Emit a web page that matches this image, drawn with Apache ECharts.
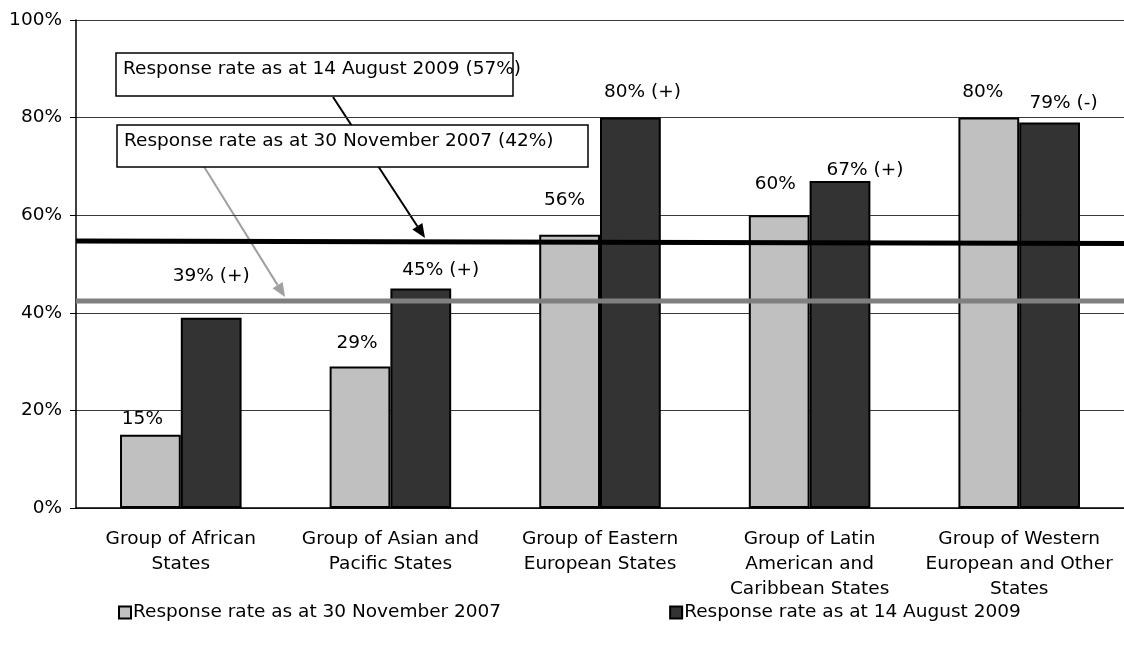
<!DOCTYPE html>
<html>
<head>
<meta charset="utf-8">
<script src="https://cdn.jsdelivr.net/npm/echarts@6/dist/echarts.min.js"></script>
<style>
  html, body { margin: 0; padding: 0; background: #fff; }
  #chart { width: 1124px; height: 648px; }
</style>
</head>
<body>
<div id="chart"></div>
<script>
// categories and values
const categories = [
  'Group of African\nStates',
  'Group of Asian and\nPacific States',
  'Group of Eastern\nEuropean States',
  'Group of Latin\nAmerican and\nCaribbean States',
  'Group of Western\nEuropean and Other\nStates'
];
const rate2007 = [15, 29, 56, 60, 80];
const rate2009 = [39, 45, 80, 67, 79];
const change2009 = ['+', '+', '+', '+', '-'];
// overall response-rate lines (as drawn, left end / right end)
const overall2009Line = [54.7, 54.2];
const overall2007Line = [42.4, 42.4];

// hand-placed label offsets [dx, dy] from the bar top
const offsets2007 = [[-8, -7], [-3, -14], [-5, -26], [-4, -22], [-6, -16]];
const offsets2009 = [[0, -32], [20, -9], [12, -16], [25, -2], [14, -10]];

const FONT = 'DejaVu Sans';
const FS = 18.5;

const chart = echarts.init(document.getElementById('chart'));

const barData = (values, offsets, fmt) => values.map((v, i) => ({
  value: v,
  label: { offset: offsets[i], formatter: fmt(v, i) }
}));

const arrow = (x1, y1, x2, y2, color) => {
  const dx = x2 - x1, dy = y2 - y1;
  const len = Math.sqrt(dx * dx + dy * dy);
  const ux = dx / len, uy = dy / len;
  const hl = 14, hw = 6;
  const bx = x2 - ux * hl, by = y2 - uy * hl;
  return [
    {
      type: 'line',
      shape: { x1: x1, y1: y1, x2: bx, y2: by },
      style: { stroke: color, lineWidth: 2 }
    },
    {
      type: 'polygon',
      shape: { points: [[x2, y2], [bx - uy * hw, by + ux * hw], [bx + uy * hw, by - ux * hw]] },
      style: { fill: color }
    }
  ];
};

const box = (x, y, w, h, text) => ({
  type: 'group',
  children: [
    {
      type: 'rect',
      shape: { x: x, y: y, width: w, height: h },
      style: { fill: '#fff', stroke: '#000', lineWidth: 1.5 }
    },
    {
      type: 'text',
      x: x + 7,
      y: y + 16,
      style: { text: text, font: FS + 'px "' + FONT + '"', fill: '#000', verticalAlign: 'middle' }
    }
  ]
});

const option = {
  animation: false,
  backgroundColor: '#fff',
  textStyle: { fontFamily: FONT, fontSize: FS, color: '#000' },
  grid: { left: 76, right: -4, top: 20, bottom: 140 },
  legend: {
    data: ['Response rate as at 30 November 2007', 'Response rate as at 14 August 2009'],
    left: 118,
    top: 603,
    padding: 0,
    itemWidth: 12,
    itemHeight: 12,
    itemGap: 168,
    icon: 'rect',
    textStyle: { fontFamily: FONT, fontSize: FS, color: '#000', padding: [0, 0, 0, -3] }
  },
  xAxis: [
    {
      type: 'category',
      data: categories,
      axisLine: { lineStyle: { color: '#000', width: 1.5 } },
      axisTick: { length: 6, lineStyle: { color: '#000' } },
      axisLabel: { color: '#000', fontFamily: FONT, fontSize: FS, lineHeight: 25, margin: 19, interval: 0 }
    },
    { type: 'value', min: 0, max: 1, show: false }
  ],
  yAxis: {
    type: 'value',
    min: 0,
    max: 100,
    interval: 20,
    axisLine: { show: true, lineStyle: { color: '#000', width: 1.5 } },
    axisTick: { show: true, length: 6, lineStyle: { color: '#000' } },
    axisLabel: { formatter: '{value}%', color: '#000', fontFamily: FONT, fontSize: FS, margin: 14 },
    splitLine: { lineStyle: { color: '#3a3a3a', width: 1 } }
  },
  series: [
    {
      name: 'Response rate as at 30 November 2007',
      type: 'bar',
      barGap: '0%',
      barCategoryGap: '42%',
      itemStyle: { color: '#c0c0c0', borderColor: '#000', borderWidth: 2 },
      label: { show: true, position: 'top', distance: 0, color: '#000', fontFamily: FONT, fontSize: FS, lineHeight: 18 },
      data: barData(rate2007, offsets2007, (v) => v + '%')
    },
    {
      name: 'Response rate as at 14 August 2009',
      type: 'bar',
      itemStyle: { color: '#333333', borderColor: '#000', borderWidth: 2 },
      label: { show: true, position: 'top', distance: 0, color: '#000', fontFamily: FONT, fontSize: FS, lineHeight: 18 },
      data: barData(rate2009, offsets2009, (v, i) => v + '% (' + change2009[i] + ')')
    },
    {
      name: 'overall 2009',
      type: 'line',
      xAxisIndex: 1,
      symbol: 'none',
      z: 5,
      lineStyle: { color: '#000', width: 5 },
      data: [[0, overall2009Line[0]], [1, overall2009Line[1]]]
    },
    {
      name: 'overall 2007',
      type: 'line',
      xAxisIndex: 1,
      symbol: 'none',
      z: 5,
      lineStyle: { color: '#808080', width: 5 },
      data: [[0, overall2007Line[0]], [1, overall2007Line[1]]]
    }
  ],
  graphic: [
    ...arrow(333, 97, 425, 238, '#000'),
    ...arrow(203, 165, 285, 297, '#a0a0a0'),
    box(116, 53, 397, 43, 'Response rate as at 14 August 2009 (57%)'),
    box(117, 125, 471, 42, 'Response rate as at 30 November 2007 (42%)')
  ]
};

chart.setOption(option);
</script>
</body>
</html>
